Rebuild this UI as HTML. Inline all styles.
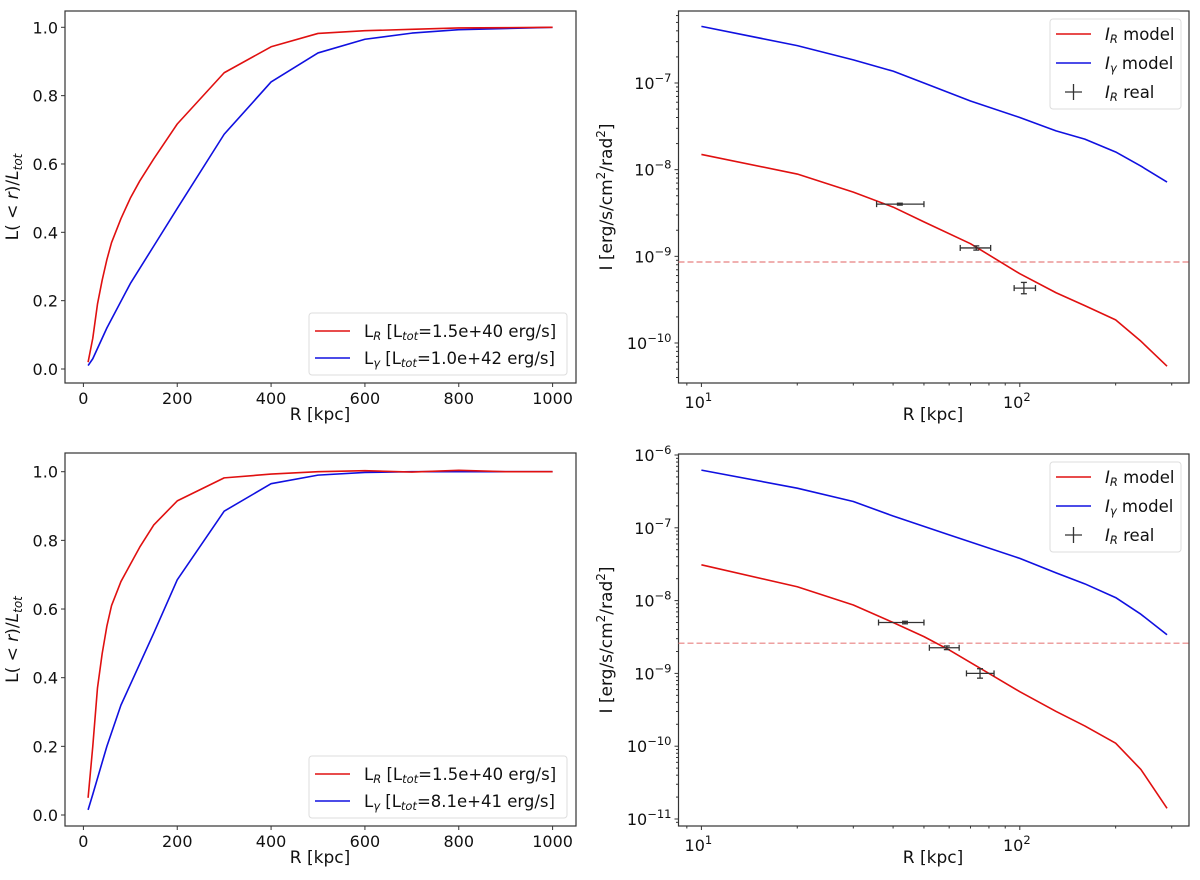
<!DOCTYPE html>
<html><head><meta charset="utf-8"><style>
html,body{margin:0;padding:0;background:#fff;}
svg{display:block;font-family:"DejaVu Sans","Liberation Sans",sans-serif;}
</style></head><body>
<svg id="fig" width="1200" height="880" viewBox="0 0 1200 880" xmlns="http://www.w3.org/2000/svg"></svg>
<script>
// ---------- data ----------
const tlR_x = [10,20,30,40,50,60,80,100,120,150,200,300,400,500,600,700,800,900,1000];
const tlR_y = [0.02,0.09,0.19,0.26,0.32,0.37,0.44,0.50,0.55,0.615,0.717,0.867,0.943,0.982,0.99,0.994,0.998,0.999,1.0];
const tlG_x = [10,20,50,100,150,200,300,400,500,600,700,800,1000];
const tlG_y = [0.01,0.03,0.12,0.25,0.36,0.47,0.687,0.84,0.925,0.965,0.983,0.993,1.0];
const blR_x = [10,20,30,40,50,60,80,100,120,150,200,300,400,500,600,700,800,900,1000];
const blR_y = [0.05,0.2,0.37,0.47,0.55,0.61,0.68,0.73,0.78,0.845,0.915,0.982,0.993,1.0,1.003,0.999,1.004,1.0,1.0];
const blG_x = [10,20,50,80,100,150,200,300,400,500,600,700,800,1000];
const blG_y = [0.015,0.06,0.2,0.32,0.38,0.53,0.685,0.885,0.965,0.99,0.998,1.0,1.0,1.0];
const trG_x = [10,20,30,40,50,70,100,130,160,200,240,290];
const trG_y = [4.5e-7,2.7e-7,1.85e-7,1.37e-7,1.0e-7,6.2e-8,4e-8,2.8e-8,2.25e-8,1.6e-8,1.1e-8,7.2e-9];
const trR_x = [10,20,30,40,50,70,100,130,160,200,240,290];
const trR_y = [1.5e-8,8.9e-9,5.5e-9,3.7e-9,2.5e-9,1.4e-9,6.3e-10,3.8e-10,2.7e-10,1.85e-10,1.05e-10,5.4e-11];
const trP_x = [42,73,103];
const trP_y = [4e-9,1.25e-9,4.3e-10];
const trP_xlo = [35.5,65,96];
const trP_xhi = [50,81,112];
const trP_ylo = [3.9e-9,1.18e-9,3.7e-10];
const trP_yhi = [4.1e-9,1.32e-9,5.0e-10];
const trThresh = 8.6e-10;
const brG_x = [10,20,30,40,60,100,130,160,200,240,290];
const brG_y = [6.2e-7,3.5e-7,2.3e-7,1.45e-7,8e-8,3.8e-8,2.4e-8,1.7e-8,1.1e-8,6.5e-9,3.4e-9];
const brR_x = [10,20,30,40,50,60,80,100,130,160,200,240,290];
const brR_y = [3.1e-8,1.55e-8,8.7e-9,5e-9,3.2e-9,2.1e-9,1e-9,5.6e-10,3e-10,1.9e-10,1.1e-10,4.8e-11,1.4e-11];
const brP_x = [43.6,59,75];
const brP_y = [5e-9,2.25e-9,1e-9];
const brP_xlo = [36,52,68];
const brP_xhi = [50,64.5,83];
const brP_ylo = [4.8e-9,2.12e-9,8.6e-10];
const brP_yhi = [5.2e-9,2.38e-9,1.16e-9];
const brThresh = 2.6e-9;
const linTicksX = [0,200,400,600,800,1000];
const linTicksY = [0.0,0.2,0.4,0.6,0.8,1.0];
const logTicksX = [1,2];
const trTicksY = [-10,-9,-8,-7];
const brTicksY = [-11,-10,-9,-8,-7,-6];

// ---------- drawing ----------
const NS = "http://www.w3.org/2000/svg";
const svg = document.getElementById('fig');
function el(tag, attrs, parent){
  const e = document.createElementNS(NS, tag);
  for (const k in attrs) e.setAttribute(k, attrs[k]);
  (parent||svg).appendChild(e);
  return e;
}
function linScale(d0,d1,p0,p1){return v=>p0+(v-d0)/(d1-d0)*(p1-p0);}
function logScale(e0,e1,p0,p1){return v=>p0+(Math.log10(v)-e0)/(e1-e0)*(p1-p0);}
function path(xs,ys,sx,sy){return xs.map((x,i)=>(i?'L':'M')+sx(x).toFixed(2)+','+sy(ys[i]).toFixed(2)).join(' ');}

function frame(g,x0,y0,x1,y1){
  const r = el('rect',{x:x0,y:y0,width:x1-x0,height:y1-y0,fill:'none',stroke:'#333','stroke-width':1.2},g);
  
  
}
function line(g,xs,ys,sx,sy,color,name){
  const p = el('path',{d:path(xs,ys,sx,sy),fill:'none',stroke:color,'stroke-width':1.6,'stroke-linejoin':'round'},g);
  
  
}
function ylabel(g,x,y,html,name){
  const t = el('text',{x:0,y:0,transform:`translate(${x},${y}) rotate(-90)`,'text-anchor':'middle','font-size':17,fill:'#111'},g);
  t.innerHTML = html;
  
  
}
function xlabel(g,x,y){
  const t = el('text',{x:x,y:y,'text-anchor':'middle','font-size':17,fill:'#111'},g);
  t.textContent='R [kpc]';
  
  
}

function linPanel(name,top,bot,y1px,y0px,rx,ry,gx,gy,legendTxt2){
  const g = el('g',{});
  
  
  const X0=65,X1=576;
  const sx = linScale(0,1000,83.4,552.6);
  const sy = linScale(0,1,y0px,y1px);
  frame(g,X0,top,X1,bot);
  linTicksX.forEach(v=>{
    el('line',{x1:sx(v),x2:sx(v),y1:bot,y2:bot+4,stroke:'#333'},g);
    const t=el('text',{x:sx(v),y:bot+21,'text-anchor':'middle','font-size':16,fill:'#111'},g);
    t.textContent=String(v);
    
    
  });
  linTicksY.forEach(v=>{
    el('line',{x1:X0-4,x2:X0,y1:sy(v),y2:sy(v),stroke:'#333'},g);
    const t=el('text',{x:X0-7,y:sy(v)+6,'text-anchor':'end','font-size':16,fill:'#111'},g);
    t.textContent=v.toFixed(1);
    
    
  });
  line(g,gx,gy,sx,sy,'#1010e0','gamma-luminosity-line');
  line(g,rx,ry,sx,sy,'#e01010','radio-luminosity-line');
  ylabel(g,18,(top+bot)/2,'L(<tspan font-style="italic"> &lt; r</tspan>)/<tspan font-style="italic">L</tspan><tspan font-style="italic" font-size="12" dy="4">tot</tspan>','y-axis-title');
  xlabel(g,320,bot+37);
  const lx=309, ly=bot-70;
  const lg = el('g',{},g);
  
  
  el('rect',{x:lx,y:ly,width:258,height:62,rx:3,fill:'#fff',stroke:'#ddd'},lg);
  const items=[['#e01010','R','1.5e+40'],['#1010e0','γ',legendTxt2]];
  items.forEach((it,i)=>{
    const yy=ly+18+i*27;
    el('line',{x1:lx+6,x2:lx+41,y1:yy,y2:yy,stroke:it[0],'stroke-width':1.6},lg);
    const t=el('text',{x:lx+55,y:yy+6,'font-size':16.5,fill:'#111'},lg);
    t.innerHTML=`L<tspan font-style="italic" font-size="11.5" dy="3">${it[1]}</tspan><tspan dy="-3"> [L</tspan><tspan font-style="italic" font-size="11.5" dy="3">tot</tspan><tspan dy="-3">=${it[2]} erg/s]</tspan>`;
    
    
  });
}

function logPanel(name,top,bot,e0,e1,p0,p1,ticksY,rx,ry,gx,gy,px,py,pxlo,pxhi,pylo,pyhi,thr){
  const g = el('g',{});
  
  
  const X0=678.5,X1=1189;
  const sx = logScale(1,2,701.4,1019.8);
  const sy = logScale(e0,e1,p0,p1);
  frame(g,X0,top,X1,bot);
  [8,9,20,30,40,50,60,70,80,90,200,300].forEach(v=>{
    if(sx(v)>X0&&sx(v)<X1) el('line',{x1:sx(v),x2:sx(v),y1:bot,y2:bot+2.5,stroke:'#333'},g);
  });
  logTicksX.forEach(e=>{
    const v=Math.pow(10,e);
    el('line',{x1:sx(v),x2:sx(v),y1:bot,y2:bot+4,stroke:'#333'},g);
    const t=el('text',{x:sx(v)-3,y:bot+25,'text-anchor':'middle','font-size':16,fill:'#111'},g);
    t.innerHTML=`10<tspan font-size="11.5" dy="-7">${e}</tspan>`;
    
    
  });
  for(let e=ticksY[0]-1;e<=ticksY[ticksY.length-1];e++){
    for(let m=2;m<=9;m++){
      const v=m*Math.pow(10,e); const yy=sy(v);
      if(yy>top&&yy<bot) el('line',{x1:X0-2.5,x2:X0,y1:yy,y2:yy,stroke:'#333'},g);
    }
  }
  ticksY.forEach(e=>{
    const yy=sy(Math.pow(10,e));
    el('line',{x1:X0-4,x2:X0,y1:yy,y2:yy,stroke:'#333'},g);
    const t=el('text',{x:X0-7,y:yy+6,'text-anchor':'end','font-size':16,fill:'#111'},g);
    t.innerHTML=`10<tspan font-size="11.5" dy="-7">−${-e}</tspan>`;
    
    
  });
  const th=el('line',{x1:X0,x2:X1,y1:sy(thr),y2:sy(thr),stroke:'#e88080','stroke-width':1.2,'stroke-dasharray':'6,3'},g);
  
  
  line(g,gx,gy,sx,sy,'#1010e0','gamma-intensity-line');
  line(g,rx,ry,sx,sy,'#e01010','radio-intensity-line');
  px.forEach((x,i)=>{
    const eg=el('g',{stroke:'#333','stroke-width':1.3},g);
    
    
    const cx=sx(x), cy=sy(py[i]);
    el('line',{x1:sx(pxlo[i]),x2:sx(pxhi[i]),y1:cy,y2:cy},eg);
    el('line',{x1:sx(pxlo[i]),x2:sx(pxlo[i]),y1:cy-3,y2:cy+3},eg);
    el('line',{x1:sx(pxhi[i]),x2:sx(pxhi[i]),y1:cy-3,y2:cy+3},eg);
    el('line',{x1:cx,x2:cx,y1:sy(pylo[i]),y2:sy(pyhi[i])},eg);
    el('line',{x1:cx-3,x2:cx+3,y1:sy(pylo[i]),y2:sy(pylo[i])},eg);
    el('line',{x1:cx-3,x2:cx+3,y1:sy(pyhi[i]),y2:sy(pyhi[i])},eg);
  });
  ylabel(g,612,(top+bot)/2,'I [erg/s/cm<tspan font-size="12" dy="-7">2</tspan><tspan dy="7">/rad</tspan><tspan font-size="12" dy="-7">2</tspan><tspan dy="7">]</tspan>','y-axis-title');
  xlabel(g,933,bot+37);
  const lx=1050, ly=top+8;
  const lg=el('g',{},g);
  
  
  el('rect',{x:lx,y:ly,width:131,height:90,rx:3,fill:'#fff',stroke:'#ddd'},lg);
  const items=[['#e01010','R',' model'],['#1010e0','γ',' model'],[null,'R',' real']];
  items.forEach((it,i)=>{
    const yy=ly+15+i*29;
    if(it[0]) el('line',{x1:lx+6,x2:lx+41,y1:yy,y2:yy,stroke:it[0],'stroke-width':1.6},lg);
    else { el('line',{x1:lx+15,x2:lx+32,y1:yy,y2:yy,stroke:'#333','stroke-width':1.3},lg);
           el('line',{x1:lx+23.5,x2:lx+23.5,y1:yy-8,y2:yy+8,stroke:'#333','stroke-width':1.3},lg); }
    const t=el('text',{x:lx+55,y:yy+6,'font-size':16.5,fill:'#111'},lg);
    t.innerHTML=`<tspan font-style="italic">I</tspan><tspan font-style="italic" font-size="11.5" dy="3">${it[1]}</tspan><tspan dy="-3">${it[2]}</tspan>`;
    
    
  });
}

linPanel('luminosity-panel-top',11,383,27.3,369,tlR_x,tlR_y,tlG_x,tlG_y,'1.0e+42');
linPanel('luminosity-panel-bottom',453,826,471.7,815,blR_x,blR_y,blG_x,blG_y,'8.1e+41');
logPanel('intensity-panel-top',11,383,-10,-7,343,83,trTicksY,trR_x,trR_y,trG_x,trG_y,trP_x,trP_y,trP_xlo,trP_xhi,trP_ylo,trP_yhi,trThresh);
logPanel('intensity-panel-bottom',454,826,-11,-6,819,455,brTicksY,brR_x,brR_y,brG_x,brG_y,brP_x,brP_y,brP_xlo,brP_xhi,brP_ylo,brP_yhi,brThresh);
</script>
</body></html>
